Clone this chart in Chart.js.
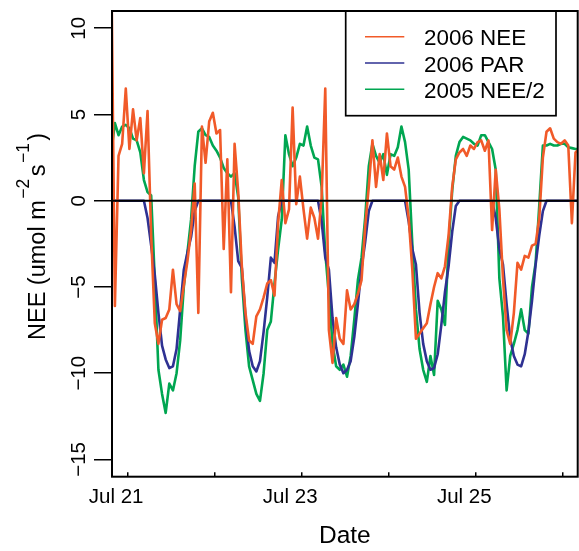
<!DOCTYPE html>
<html>
<head>
<meta charset="utf-8">
<script src="https://cdn.jsdelivr.net/npm/chart.js@4.4.0/dist/chart.umd.min.js"></script>
<style>
  html, body { margin: 0; padding: 0; background: #fff; }
</style>
</head>
<body>
<canvas id="neeChart" width="579" height="551"></canvas>
<script>
// Grille horaire : heures depuis le 21 juillet 00:00 (un point par heure)
const HOURS = Array.from({ length: 130 }, (_, i) => -4.5 + i);

// 2006 NEE (umol m-2 s-1)
const NEE_2006 = [
  14, -6.1, 2.6, 3.3, 6.5, 3.0, 5.3, 3.5, 4.8, 1.6,
  5.2, -2.0, -7.1, -8.3, -6.9, -6.8, -6.3, -4.0, -6.0, -6.4,
  -4.9, -3.5, -1.7, 1.0, -6.5, 4.3, 2.2, 4.6, 5.1, 3.9,
  4.1, -2.8, 2.4, -5.3, 3.3, 0.5, -3.8, -6.5, -8.1, -8.3,
  -6.7, -6.3, -5.6, -4.8, -4.6, -5.5, -1.3, 1.2, -1.3, -0.5,
  5.4, -0.2, 1.4, -0.5, -2.2, -0.4, -1.0, -2.2, 0.2, 6.5,
  -7.5, -9.4, -6.8, -8.0, -8.3, -5.2, -6.3, -6.0, -5.4, -4.6,
  -1.5, 0.8, 3.5, 0.8, 2.7, 1.2, 3.9, 2.0, 1.8, 2.5,
  1.4, 0.8, -1.0, -4.0, -8.0, -7.7, -7.4, -7.1, -6.0, -5.0,
  -4.2, -4.5, -3.8, -2.0, 0.8, 2.4, 2.8, 3.0, 2.6, 3.2,
  3.0, 3.4, 3.5, 2.9, 3.5, -1.7, 1.8, -0.5, -4.5, -7.5,
  -8.3, -6.5, -3.6, -4.0, -3.2, -3.3, -2.6, -2.5, -1.0, 2.5,
  4.0, 4.2, 3.6, 3.4, 3.3, 3.5, 3.2, -1.3, 2.8, 3.0
];

// 2006 PAR (mis à l'échelle)
const PAR_2006 = [
  0, 0, 0, 0, 0, 0, 0, 0, 0, 0,
  -1.0, -2.6, -4.3, -6.5, -8.4, -9.2, -9.7, -9.6, -8.6, -6.3,
  -4.0, -3.0, -2.1, -0.6, 0,
  0, 0, 0, 0, 0, 0, 0, 0,
  0, -1.5, -3.5, -3.9, -6.7, -8.7, -9.6, -9.9, -9.3, -7.6,
  -5.6, -3.3, -3.6, -0.9, 0,
  0, 0, 0, 0, 0, 0, 0, 0, 0,
  0, -1.2, -3.3, -4.0, -6.8, -8.5, -9.5, -10.0, -9.8, -9.3,
  -7.9, -6.0, -3.9, -2.4, -0.6, 0,
  0, 0, 0, 0, 0, 0, 0, 0,
  0, -1.2, -2.8, -3.7, -6.5, -8.3, -9.3, -9.8, -9.7, -8.9,
  -7.2, -5.3, -3.8, -1.8, -0.3, 0,
  0, 0, 0, 0, 0, 0, 0, 0,
  0, -1.0, -2.8, -3.7, -6.0, -8.0, -9.0, -9.5, -9.6, -8.9,
  -7.6, -5.8, -3.7, -2.0, -0.6, 0,
  0, 0, 0, 0, 0, 0, 0, 0,
  0
];

// 2005 NEE divisé par 2
const NEE_2005_HALF = [
  2.8, 4.5, 3.8, 4.3, 4.4, 4.2, 3.6, 3.5, 2.8, 1.2,
  0.5, 0.3, -4.6, -9.8, -11.2, -12.3, -10.6, -11.0, -10.0, -8.1,
  -5.0, -3.0, -1.1, 2.0, 4.0, 4.2, 3.8, 3.7, 3.2, 2.9,
  2.5, 1.9, 1.6, 1.4, 1.6, 0.2, -4.5, -7.5, -9.6, -10.4,
  -11.2, -11.6, -10.0, -7.5, -7.0, -4.8, -2.8, -1.1, 3.8, 2.7,
  2.0, 2.5, 3.3, 3.2, 4.3, 3.2, 2.5, 2.4, 0.8, -3.0,
  -5.5, -8.3, -9.6, -9.8, -9.5, -10.2, -9.0, -6.9, -4.6, -3.3,
  -1.0, 2.0, 3.3, 2.6, 2.2, 2.7, 1.5, 2.7, 2.6, 3.1,
  4.3, 3.4, 1.8, -2.5, -6.3, -8.6, -9.8, -10.5, -9.0, -10.1,
  -5.8, -6.3, -7.2, -2.5, 0.6, 2.6, 3.4, 3.7, 3.6, 3.5,
  3.3, 3.2, 3.8, 3.8, 3.4, 3.0, 1.8, -4.5, -6.7, -11.0,
  -9.0, -8.3, -7.5, -6.3, -7.5, -7.7, -5.0, -3.6, -0.3, 3.2,
  3.2, 3.3, 3.2, 3.2, 3.3, 3.3, 3.1, 3.05, 3.0, 3.0
];

// Axes
const X_MIN = -4.3;
const X_MAX = 124.1;
const X_TICKS = [0, 24, 48, 72, 96, 120];
const X_TICK_LABELS = ["Jul 21", "", "Jul 23", "", "Jul 25", ""];
const Y_MIN = -16;
const Y_MAX = 11;
const Y_TICKS = [-15, -10, -5, 0, 5, 10];

const SERIES_LABELS = ["2006 NEE", "2006 PAR", "2005 NEE/2"];
const SERIES_COLORS = ["#F15A29", "#2E3192", "#00A651"];

const FONT = "'Liberation Sans', Arial, Helvetica, sans-serif";

function toPoints(values) {
  return values.map((v, i) => ({ x: HOURS[i], y: v }));
}

// Cadre du graphique + légende dessinée comme dans R
const frameAndLegend = {
  id: "frameAndLegend",
  afterDatasetsDraw(chart) {
    const { ctx, chartArea: a } = chart;
    ctx.save();
    ctx.strokeStyle = "#000";
    ctx.lineWidth = 2;
    ctx.strokeRect(a.left, a.top, a.right - a.left, a.bottom - a.top);

    const right = a.right - 21.7;
    const left = right - 210.3;
    const top = a.top;
    ctx.lineWidth = 1.7;
    ctx.strokeRect(left, top, right - left, 104.7);

    ctx.font = "22.4px " + FONT;
    ctx.textBaseline = "middle";
    ctx.textAlign = "left";
    const series = chart.data.datasets.filter((d) => SERIES_LABELS.includes(d.label));
    series.forEach((d, i) => {
      const y = top + 25.7 + i * 26.3;
      ctx.strokeStyle = d.borderColor;
      ctx.lineWidth = 1.5;
      ctx.beginPath();
      ctx.moveTo(left + 19.3, y);
      ctx.lineTo(left + 58.6, y);
      ctx.stroke();
      ctx.fillStyle = "#000";
      ctx.fillText(d.label, left + 78.3, y + 2.5);
    });
    ctx.restore();
  },
};

// Titre de l'axe Y avec exposants
const yTitle = {
  id: "yTitle",
  afterDraw(chart) {
    const { ctx, chartArea: a } = chart;
    ctx.save();
    ctx.translate(45, a.bottom - 136.7);
    ctx.rotate(-Math.PI / 2);
    ctx.fillStyle = "#000";
    ctx.textBaseline = "alphabetic";
    ctx.textAlign = "left";
    const parts = [
      ["NEE (umol m", false],
      ["\u22122", true],
      ["s", false],
      ["\u22121", true],
      [")", false],
    ];
    let x = 0;
    parts.forEach(([txt, sup], i) => {
      ctx.font = (sup ? "17.5px " : "23.5px ") + FONT;
      if (sup) x += 1.5;
      ctx.fillText(txt, x, sup ? -16 : 0);
      x += ctx.measureText(txt).width + (sup ? 2.5 : 0);
    });
    ctx.restore();
  },
};

new Chart(document.getElementById("neeChart"), {
  type: "line",
  data: {
    datasets: [
      {
        label: "zero",
        data: [{ x: X_MIN, y: 0 }, { x: X_MAX, y: 0 }],
        borderColor: "#000",
        borderWidth: 2,
        order: 0,
      },
      {
        label: SERIES_LABELS[0],
        data: toPoints(NEE_2006),
        borderColor: SERIES_COLORS[0],
        borderWidth: 2.6,
        clip: 0,
        order: 1,
      },
      {
        label: SERIES_LABELS[1],
        data: toPoints(PAR_2006),
        borderColor: SERIES_COLORS[1],
        borderWidth: 2.6,
        clip: 0,
        order: 2,
      },
      {
        label: SERIES_LABELS[2],
        data: toPoints(NEE_2005_HALF),
        borderColor: SERIES_COLORS[2],
        borderWidth: 2.6,
        clip: 0,
        order: 3,
      },
    ],
  },
  options: {
    responsive: false,
    animation: false,
    devicePixelRatio: 1,
    layout: { padding: { top: 11, right: 1.3, left: 0, bottom: 0 } },
    elements: {
      point: { radius: 0 },
      line: { tension: 0, borderCapStyle: "round", borderJoinStyle: "round" },
    },
    plugins: {
      legend: { display: false },
      tooltip: { enabled: false },
    },
    scales: {
      x: {
        type: "linear",
        min: X_MIN,
        max: X_MAX,
        afterFit: (s) => { s.height = 74.3; },
        afterBuildTicks: (s) => { s.ticks = X_TICKS.map((v) => ({ value: v })); },
        border: { display: false },
        grid: { drawOnChartArea: false, drawTicks: true, tickLength: -4.5, color: "#000", lineWidth: 1.5 },
        ticks: {
          callback: (v, i) => X_TICK_LABELS[i],
          font: { family: FONT, size: 20.5 },
          color: "#000",
          padding: 13,
          labelOffset: -11.5,
          maxRotation: 0,
          autoSkip: false,
        },
        title: {
          display: true,
          text: "Date",
          font: { family: FONT, size: 24.5 },
          color: "#000",
          padding: { top: 0, bottom: 0 },
        },
      },
      y: {
        type: "linear",
        min: Y_MIN,
        max: Y_MAX,
        afterFit: (s) => { s.width = 112; },
        afterBuildTicks: (s) => { s.ticks = Y_TICKS.map((v) => ({ value: v })); },
        border: { display: false },
        grid: { drawOnChartArea: false, drawTicks: true, tickLength: 18, color: "#000", lineWidth: 1.5 },
        ticks: {
          callback: (v) => (v < 0 ? "\u2212" + Math.abs(v) : String(v)),
          font: { family: FONT, size: 20.5 },
          color: "#000",
          minRotation: 90,
          maxRotation: 90,
          crossAlign: "center",
          padding: -2.4,
        },
      },
    },
  },
  plugins: [frameAndLegend, yTitle],
});
</script>
</body>
</html>
